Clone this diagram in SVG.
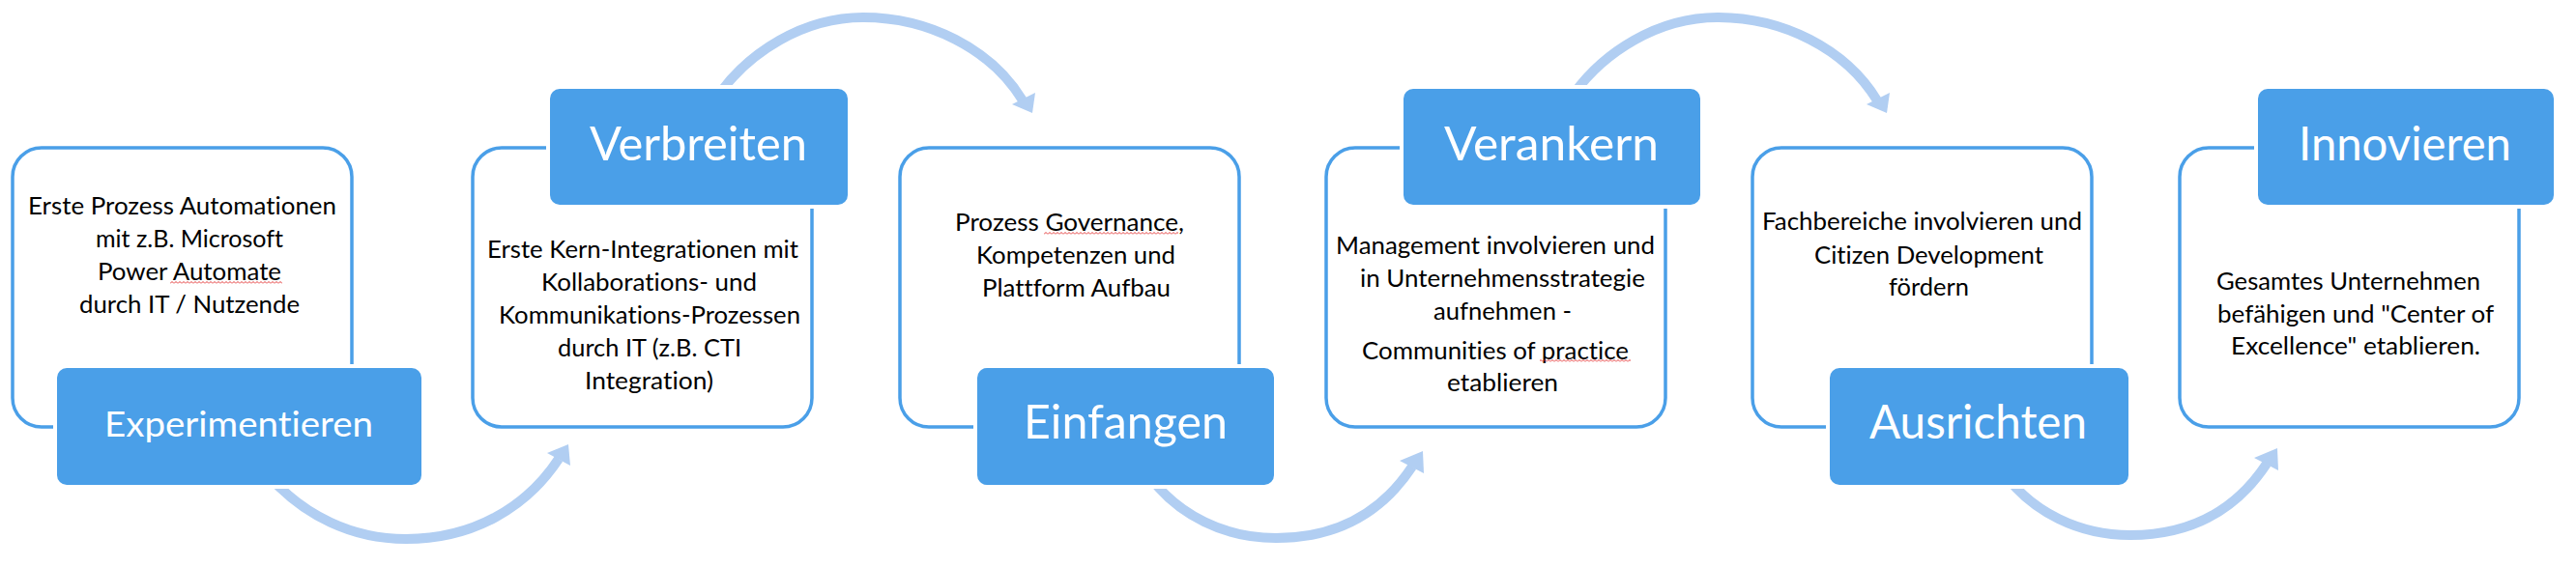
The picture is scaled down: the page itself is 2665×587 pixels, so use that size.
<svg xmlns="http://www.w3.org/2000/svg" width="2665" height="587" viewBox="0 0 2665 587">
<style>
.box{fill:#fff;stroke:#4A9FE8;stroke-width:3.5}
.lab{fill:#4A9FE8;stroke:#fff;stroke-width:8;paint-order:stroke}
.title{font-family:Lato,"Open Sans","Liberation Sans",sans-serif;fill:#fff;font-size:48px;font-variant-ligatures:none;font-feature-settings:"liga" 0,"clig" 0}
.body{font-family:Lato,"Open Sans","Liberation Sans",sans-serif;fill:#000;font-size:25px;font-variant-ligatures:none;font-feature-settings:"liga" 0,"clig" 0}
.arc{fill:none;stroke:#B1CEF2;stroke-width:10}
.head{fill:#B1CEF2}
.sq{fill:url(#squig)}
</style>
<defs>
<pattern id="squig" width="4" height="3" patternUnits="userSpaceOnUse">
<path d="M0 2.5 L2 0.5 L4 2.5" fill="none" stroke="#E02020" stroke-width="0.9"/>
</pattern>
</defs>
<rect width="2665" height="587" fill="#fff"/>
<g id="connectors">
<path class="arc" d="M283 498 C315 532 362 558 420 558 C490 558 545 525 578 475"/>
<polygon class="head" points="588,460 566,469 590,482"/>
<path class="arc" d="M1193 498 C1220 532 1265 557 1320 557 C1385 557 1430 530 1461 483"/>
<polygon class="head" points="1472,467 1448,477 1473,490"/>
<g transform="translate(884,-3)">
<path class="arc" d="M1193 498 C1220 532 1265 557 1320 557 C1385 557 1430 530 1461 483"/>
<polygon class="head" points="1472,467 1448,477 1473,490"/>
</g>
<path class="arc" d="M745 96 C775 55 830 18 893 18 C960 18 1025 50 1058 104"/>
<polygon class="head" points="1068,117 1047,108 1071,96"/>
<path class="arc" d="M1629 96 C1659 55 1714 18 1777 18 C1844 18 1909 50 1942 104"/>
<polygon class="head" points="1952,117 1931,108 1955,96"/>
</g>
<g id="node1">
<rect class="box" x="13" y="153" width="351" height="289" rx="30"/>
<text class="body" x="29" y="222" textLength="319" lengthAdjust="spacingAndGlyphs">Erste Prozess Automationen</text>
<text class="body" x="99" y="256" textLength="194" lengthAdjust="spacingAndGlyphs">mit z.B. Microsoft</text>
<text class="body" x="101" y="290" textLength="190" lengthAdjust="spacingAndGlyphs">Power Automate</text>
<text class="body" x="82" y="324" textLength="228" lengthAdjust="spacingAndGlyphs">durch IT / Nutzende</text>
<rect class="sq" x="176" y="291" width="116" height="3"/>
<rect class="lab" x="59" y="381" width="377" height="121" rx="10"/>
<text class="title" x="108" y="452" style="font-size:37px" textLength="278" lengthAdjust="spacingAndGlyphs">Experimentieren</text>
</g>
<g id="node2">
<rect class="box" x="489" y="153" width="351" height="289" rx="30"/>
<text class="body" x="504" y="267" textLength="322" lengthAdjust="spacingAndGlyphs">Erste Kern-Integrationen mit</text>
<text class="body" x="560" y="301" textLength="223" lengthAdjust="spacingAndGlyphs">Kollaborations- und</text>
<text class="body" x="516" y="335" textLength="312" lengthAdjust="spacingAndGlyphs">Kommunikations-Prozessen</text>
<text class="body" x="577" y="369" textLength="190" lengthAdjust="spacingAndGlyphs">durch IT (z.B. CTI</text>
<text class="body" x="605" y="403" textLength="133" lengthAdjust="spacingAndGlyphs">Integration)</text>
<rect class="lab" x="569" y="92" width="308" height="120" rx="10"/>
<text class="title" x="610" y="166" textLength="225" lengthAdjust="spacingAndGlyphs">Verbreiten</text>
</g>
<g id="node3">
<rect class="box" x="931" y="153" width="351" height="289" rx="30"/>
<text class="body" x="988" y="239" textLength="237" lengthAdjust="spacingAndGlyphs">Prozess Governance,</text>
<text class="body" x="1010" y="273" textLength="206" lengthAdjust="spacingAndGlyphs">Kompetenzen und</text>
<text class="body" x="1016" y="307" textLength="195" lengthAdjust="spacingAndGlyphs">Plattform Aufbau</text>
<rect class="sq" x="1080" y="240" width="139" height="3"/>
<rect class="lab" x="1011" y="381" width="307" height="121" rx="10"/>
<text class="title" x="1059" y="454" textLength="211" lengthAdjust="spacingAndGlyphs">Einfangen</text>
</g>
<g id="node4">
<rect class="box" x="1372" y="153" width="351" height="289" rx="30"/>
<text class="body" x="1382" y="263" textLength="330" lengthAdjust="spacingAndGlyphs">Management involvieren und</text>
<text class="body" x="1407" y="297" textLength="295" lengthAdjust="spacingAndGlyphs">in Unternehmensstrategie</text>
<text class="body" x="1483" y="331" textLength="143" lengthAdjust="spacingAndGlyphs">aufnehmen -</text>
<text class="body" x="1409" y="372" textLength="276" lengthAdjust="spacingAndGlyphs">Communities of practice</text>
<text class="body" x="1497" y="405" textLength="115" lengthAdjust="spacingAndGlyphs">etablieren</text>
<rect class="sq" x="1593" y="372" width="94" height="3"/>
<rect class="lab" x="1452" y="92" width="307" height="120" rx="10"/>
<text class="title" x="1494" y="166" textLength="222" lengthAdjust="spacingAndGlyphs">Verankern</text>
</g>
<g id="node5">
<rect class="box" x="1813" y="153" width="351" height="289" rx="30"/>
<text class="body" x="1823" y="238" textLength="331" lengthAdjust="spacingAndGlyphs">Fachbereiche involvieren und</text>
<text class="body" x="1877" y="273" textLength="237" lengthAdjust="spacingAndGlyphs">Citizen Development</text>
<text class="body" x="1954" y="306" textLength="83" lengthAdjust="spacingAndGlyphs">fördern</text>
<rect class="lab" x="1893" y="381" width="309" height="121" rx="10"/>
<text class="title" x="1934" y="454" textLength="225" lengthAdjust="spacingAndGlyphs">Ausrichten</text>
</g>
<g id="node6">
<rect class="box" x="2255" y="153" width="351" height="289" rx="30"/>
<text class="body" x="2293" y="300" textLength="273" lengthAdjust="spacingAndGlyphs">Gesamtes Unternehmen</text>
<text class="body" x="2294" y="334" textLength="286" lengthAdjust="spacingAndGlyphs">befähigen und "Center of</text>
<text class="body" x="2308" y="367" textLength="258" lengthAdjust="spacingAndGlyphs">Excellence" etablieren.</text>
<rect class="lab" x="2336" y="92" width="306" height="120" rx="10"/>
<text class="title" x="2378" y="166" textLength="220" lengthAdjust="spacingAndGlyphs">Innovieren</text>
</g>
</svg>
